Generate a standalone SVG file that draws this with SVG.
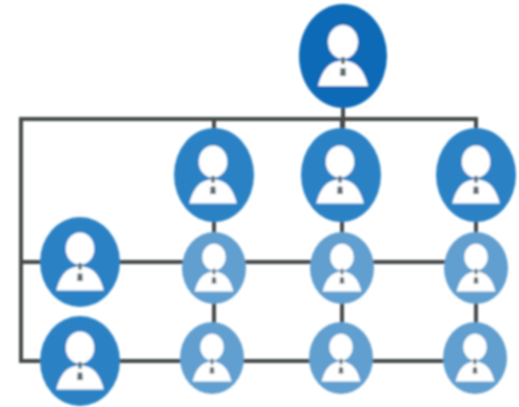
<svg xmlns="http://www.w3.org/2000/svg" width="519" height="407" viewBox="0 0 519 407">
<style>
.c{fill:none;stroke:#45484a;stroke-width:4}
.top{fill:#0b6bb7}.mid{fill:#2a82c5}.low{fill:#619fcf}
.w{fill:#fff}.t{fill:#5d6a70}
</style>
<defs>
<filter id="b" x="-5%" y="-5%" width="110%" height="110%"><feGaussianBlur stdDeviation="1.2"/></filter>
<g id="p">
<ellipse class="w" cx="0" cy="-14" rx="15" ry="17"/>
<path class="w" d="M-25,30 Q-20,10 -8,6 L0,4 L8,6 Q20,10 25,30 Z"/>
<rect class="t" x="-1.8" y="1" width="3.6" height="7"/>
<path class="t" d="M-2.5,12 H2.5 L3,20 H-3 Z"/>
</g>
</defs>
<g filter="url(#b)">
<g id="connectors">
<path class="c" d="M476,128 V119 H21 V361 H476"/>
<path class="c" d="M21,262 H476"/>
<path class="c" d="M343,108 V128 M214,119 V130 M342,119 V130 M214,220 V235 M342,220 V235 M476,220 V235 M214,300 V325 M342,300 V325 M476,300 V325"/>
</g>
<g id="n-top"><ellipse class="top" cx="343" cy="56" rx="44" ry="52"/><use href="#p" transform="translate(343,56)"/></g>
<g id="n-m1"><ellipse class="mid" cx="214" cy="175" rx="40" ry="47"/><use href="#p" transform="translate(213,175) scale(.95)"/></g>
<g id="n-m2"><ellipse class="mid" cx="341" cy="175" rx="40" ry="47"/><use href="#p" transform="translate(340,175) scale(.95)"/></g>
<g id="n-m3"><ellipse class="mid" cx="476" cy="175" rx="40" ry="47"/><use href="#p" transform="translate(476,175) scale(.95)"/></g>
<g id="n-l1"><ellipse class="mid" cx="80" cy="262" rx="40" ry="45"/><use href="#p" transform="translate(80,262) scale(.95)"/></g>
<g id="n-a1"><ellipse class="low" cx="214" cy="268" rx="32" ry="36"/><use href="#p" transform="translate(214,268) scale(.78)"/></g>
<g id="n-a2"><ellipse class="low" cx="342" cy="268" rx="32" ry="36"/><use href="#p" transform="translate(342,268) scale(.78)"/></g>
<g id="n-a3"><ellipse class="low" cx="476" cy="268" rx="32" ry="36"/><use href="#p" transform="translate(476,268) scale(.78)"/></g>
<g id="n-l2"><ellipse class="mid" cx="80" cy="361" rx="40" ry="45"/><use href="#p" transform="translate(80,361) scale(.95)"/></g>
<g id="n-b1"><ellipse class="low" cx="212" cy="358" rx="32" ry="36"/><use href="#p" transform="translate(212,358) scale(.78)"/></g>
<g id="n-b2"><ellipse class="low" cx="341" cy="358" rx="32" ry="36"/><use href="#p" transform="translate(341,358) scale(.78)"/></g>
<g id="n-b3"><ellipse class="low" cx="475" cy="358" rx="32" ry="36"/><use href="#p" transform="translate(475,358) scale(.78)"/></g>
</g>
</svg>
